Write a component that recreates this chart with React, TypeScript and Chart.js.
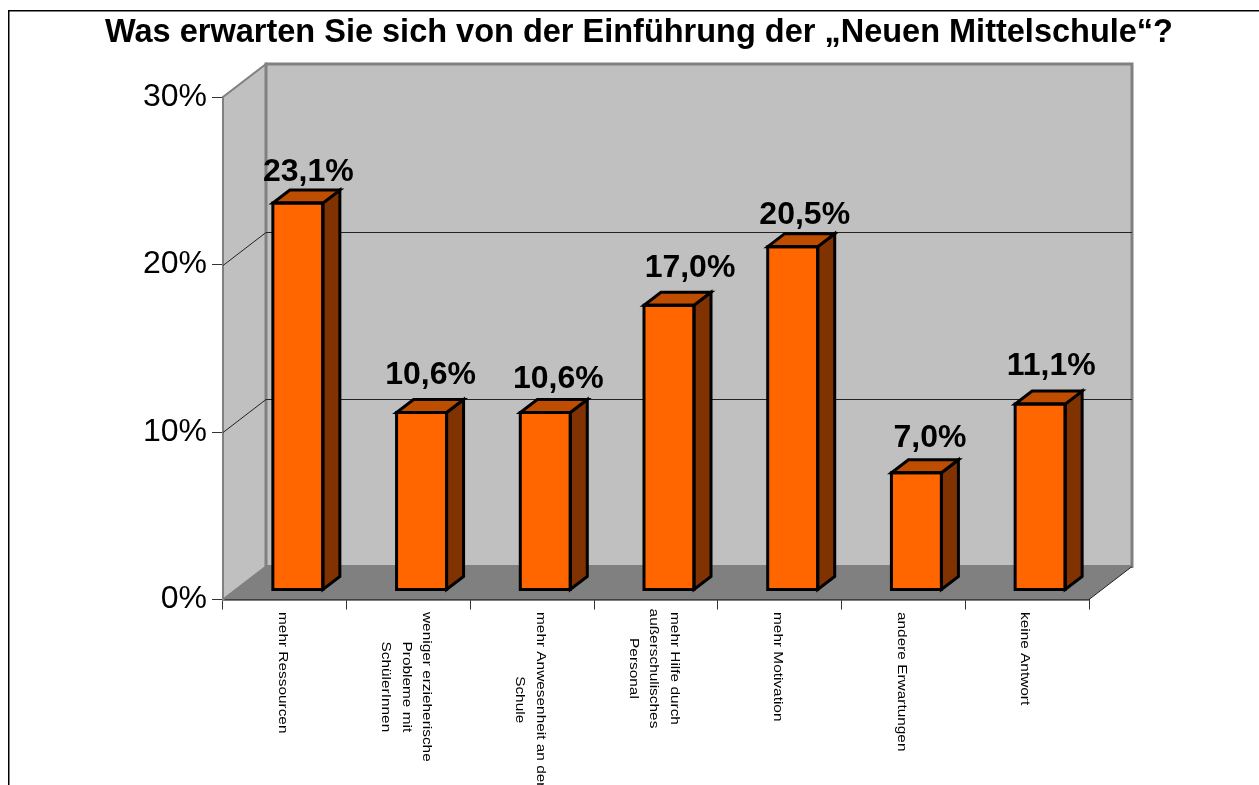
import React, { useEffect, useRef } from "react";
import { Chart, registerables } from "chart.js";

Chart.register(...registerables);

const categories: string[][] = [
  ["mehr Ressourcen"],
  ["weniger erzieherische", "Probleme mit", "SchülerInnen"],
  ["mehr Anwesenheit an der", "Schule"],
  ["mehr Hilfe durch", "außerschulisches", "Personal"],
  ["mehr Motivation"],
  ["andere Erwartungen"],
  ["keine Antwort"],
];
const values = [23.1, 10.6, 10.6, 17.0, 20.5, 7.0, 11.1];
const valueLabels = ["23,1%", "10,6%", "10,6%", "17,0%", "20,5%", "7,0%", "11,1%"];
const titleText = "Was erwarten Sie sich von der Einführung der „Neuen Mittelschule“?";

const FONT = '"Liberation Sans", Arial, sans-serif';
const DX = 43; // wall depth
const DY = -33;
const BAR_SHIFT_X = 13; // bars stand in the middle of the floor
const BAR_SHIFT_Y = -9.5;
const BAR_DX = 17; // bar depth
const BAR_DY = -13;
// hand placement of the value labels, relative to their default spot
const labelNudgeX = [0.5, -1, 3, 11, 2, 3.5, 1];
const labelNudgeY = [0, -6, -2, -6, -1, -4, -7];

const poly = (ctx: CanvasRenderingContext2D, pts: number[][], fill?: string, stroke?: string, lw = 1) => {
  ctx.beginPath();
  pts.forEach(([x, y], i) => (i ? ctx.lineTo(x, y) : ctx.moveTo(x, y)));
  ctx.closePath();
  if (fill) {
    ctx.fillStyle = fill;
    ctx.fill();
  }
  if (stroke) {
    ctx.strokeStyle = stroke;
    ctx.lineWidth = lw;
    ctx.lineJoin = "miter";
    ctx.stroke();
  }
};

const scene = {
  id: "scene",
  beforeDraw(chart: any) {
    const { ctx } = chart;
    ctx.save();
    // outer frame, running off the right and bottom of the page
    ctx.strokeStyle = "#000";
    ctx.lineWidth = 1.5;
    ctx.strokeRect(8.75, 10.75, 1400, 900);
    ctx.restore();
  },
  beforeDatasetsDraw(chart: any) {
    const { ctx, chartArea: a, scales } = chart;
    const y = scales.y;
    const L = a.left, R = a.right, T = a.top, B = a.bottom;
    ctx.save();
    // left wall, back wall, floor
    poly(ctx, [[L, B], [L + DX, B + DY], [L + DX, T + DY], [L, T]], "#C0C0C0", "#808080", 2);
    poly(ctx, [[L + DX, T + DY], [R + DX, T + DY], [R + DX, B + DY], [L + DX, B + DY]], "#C0C0C0", "#808080", 3);
    poly(ctx, [[L, B], [R, B], [R + DX, B + DY], [L + DX, B + DY]], "#808080");
    // gridlines
    ctx.strokeStyle = "#222";
    ctx.lineWidth = 1;
    for (const t of y.ticks) {
      if (t.value === 0 || t.value === y.max) continue;
      const py = Math.round(y.getPixelForValue(t.value)) + 0.5;
      ctx.beginPath();
      ctx.moveTo(L, py);
      ctx.lineTo(L + DX, py + DY);
      ctx.lineTo(R + DX, py + DY);
      ctx.stroke();
    }
    // right floor edge
    ctx.beginPath();
    ctx.moveTo(R, B);
    ctx.lineTo(R + DX, B + DY);
    ctx.stroke();
    ctx.restore();
    // bars are drawn shifted back onto the floor
    ctx.save();
    ctx.translate(BAR_SHIFT_X, BAR_SHIFT_Y);
  },
  afterDatasetsDraw(chart: any) {
    const { ctx } = chart;
    const meta = chart.getDatasetMeta(0);
    meta.data.forEach((bar: any, i: number) => {
      const x0 = bar.x - bar.width / 2;
      const x1 = bar.x + bar.width / 2;
      const top = bar.y;
      const base = bar.base;
      poly(ctx, [[x1, top], [x1 + BAR_DX, top + BAR_DY], [x1 + BAR_DX, base + BAR_DY], [x1, base]], "#803300", "#000", 3);
      poly(ctx, [[x0, top], [x1, top], [x1 + BAR_DX, top + BAR_DY], [x0 + BAR_DX, top + BAR_DY]], "#BF4D00", "#000", 3);
      poly(ctx, [[x0, top], [x1, top], [x1, base], [x0, base]], undefined, "#000", 3);
      ctx.fillStyle = "#000";
      ctx.font = `bold 32px ${FONT}`;
      ctx.textAlign = "center";
      ctx.textBaseline = "alphabetic";
      ctx.fillText(valueLabels[i], bar.x + 10 + labelNudgeX[i], top - 22 + labelNudgeY[i]);
    });
    ctx.restore();
    // category labels, reading downwards
    const x = chart.scales.x;
    const stretch = 1.14;
    categories.forEach((lines, i) => {
      const cx = x.getPixelForTick(i) - 2;
      const h = 20.5;
      lines.forEach((line, j) => {
        ctx.save();
        ctx.translate(cx + ((lines.length - 1) / 2 - j) * h, 612);
        ctx.rotate(Math.PI / 2);
        ctx.scale(stretch, 1);
        ctx.fillStyle = "#000";
        ctx.font = `13.5px ${FONT}`;
        ctx.textAlign = "left";
        ctx.textBaseline = "middle";
        const w0 = ctx.measureText(lines[0]).width;
        const w = ctx.measureText(line).width;
        ctx.fillText(line, (w0 - w) / 2, 0);
        ctx.restore();
      });
    });
  },
};

export default function App() {
  const ref = useRef<HTMLCanvasElement>(null);
  useEffect(() => {
    document.body.style.margin = "0";
    document.body.style.overflow = "hidden";
    const chart = new Chart(ref.current!, {
      type: "bar",
      data: {
        labels: categories.map((c) => c.join(" ")),
        datasets: [
          {
            data: values,
            backgroundColor: "#FF6600",
            borderWidth: 0,
            barThickness: 50,
          },
        ],
      },
      options: {
        responsive: false,
        animation: false,
        devicePixelRatio: 1,
        layout: { padding: { left: 19 } },
        plugins: {
          legend: { display: false },
          tooltip: { enabled: false },
          title: {
            display: true,
            text: titleText,
            color: "#000",
            font: { family: FONT, size: 32.5, weight: "bold", lineHeight: 1.2 },
            padding: { top: 14, bottom: 44 },
          },
        },
        scales: {
          x: {
            offset: true,
            grid: { display: true, drawOnChartArea: false, drawTicks: true, tickLength: 10, color: "#333", offset: true },
            border: { color: "#000", width: 1.5 },
            ticks: { display: false },
            afterFit: (s: any) => { s.height = 185.5; },
          },
          y: {
            min: 0,
            max: 30,
            grid: { display: true, drawOnChartArea: false, drawTicks: true, tickLength: 11, color: "#333" },
            border: { color: "#808080", width: 2 },
            ticks: {
              stepSize: 10,
              color: "#000",
              padding: 5,
              font: { family: FONT, size: 32 },
              callback: (v: any) => `${v}%`,
            },
            afterFit: (s: any) => { s.width = 204; },
          },
          // empty spacer so that the title centres over the page's visual middle
          spacer: {
            position: "right",
            grid: { display: false },
            border: { display: false },
            ticks: { display: false },
            afterFit: (s: any) => { s.width = 170; },
          },
        },
      },
      plugins: [scene],
    } as any);
    return () => chart.destroy();
  }, []);
  return <canvas ref={ref} width={1259} height={785} style={{ position: "absolute", left: 0, top: 0 }} />;
}
